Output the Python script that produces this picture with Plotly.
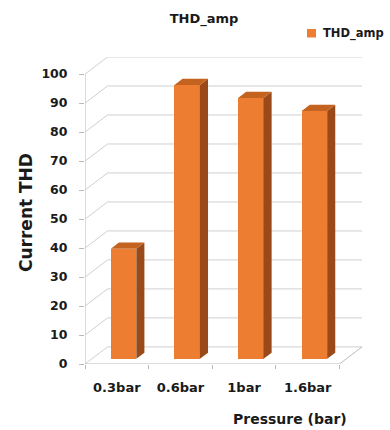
import plotly.graph_objects as go

# Data
categories = ["0.3bar", "0.6bar", "1bar", "1.6bar"]
thd_values = [38, 94.5, 90, 85.5]
y_ticks = list(range(0, 101, 10))

# Pseudo-3D geometry (data units)
DX, DY = 0.354, 5.9          # depth vector of the wall/floor box
F0, F1 = 0.30, 0.66          # front/back depth fractions of a column
BAR_W = 0.40
n = len(categories)

FRONT = "#ED7D31"
TOP = "#C4621F"
SIDE = "#9A4A18"
GRID = "#D0D0D0"
AXIS = "#BABABA"
FONT = "DejaVu Sans"

W, H = 390, 430
L, R, T, B = 85, 28, 57, 66
PW, PH = W - L - R, H - T - B


def px(x):
    return (x - L) / PW


def py(y):
    return (H - B - y) / PH


fig = go.Figure()

xc = [i + 0.5 for i in range(n)]
base0 = F0 * DY
shift = F0 * DX
dd = F1 - F0

# column front faces
fig.add_trace(go.Bar(
    x=[c + shift for c in xc], y=thd_values, base=[base0] * n,
    width=BAR_W, marker=dict(color=FRONT, line=dict(width=0)),
    name="THD_amp", showlegend=False, hoverinfo="skip",
))

# column side and top faces
for c, v in zip(xc, thd_values):
    xl = c + shift - BAR_W / 2
    xr = c + shift + BAR_W / 2
    top = v + base0
    ox, oy = dd * DX, dd * DY
    fig.add_trace(go.Scatter(
        x=[xr, xr, xr + ox, xr + ox, xr], y=[base0, top, top + oy, base0 + oy, base0],
        fill="toself", fillcolor=SIDE, mode="lines", line=dict(width=0),
        showlegend=False, hoverinfo="skip"))
    fig.add_trace(go.Scatter(
        x=[xl, xr, xr + ox, xl + ox, xl], y=[top, top, top + oy, top + oy, top],
        fill="toself", fillcolor=TOP, mode="lines", line=dict(width=0),
        showlegend=False, hoverinfo="skip"))

# back wall gridlines + side wall diagonals
shapes = []
for v in y_ticks:
    shapes.append(dict(
        type="path", xref="x", yref="y", layer="below",
        path=f"M0,{v} L{DX},{v + DY} L{n + DX},{v + DY}",
        line=dict(color=GRID, width=1)))
# floor front and right edges, front vertical axis
shapes.append(dict(type="path", xref="x", yref="y", layer="below",
                   path=f"M0,{y_ticks[-1]} L0,0 L{n},0 L{n + DX},{DY}",
                   line=dict(color=AXIS, width=1)))

# legend key
shapes.append(dict(type="rect", xref="paper", yref="paper",
                   x0=px(307), x1=px(316), y0=py(37.5), y1=py(29),
                   fillcolor=FRONT, line=dict(width=0)))

annotations = [
    dict(text="THD_amp", xref="paper", yref="paper", x=px(321), y=py(33.5),
         xanchor="left", yanchor="middle", showarrow=False,
         font=dict(family=FONT, size=11.5, color="#1a1a1a", weight="bold")),
    dict(text="Current THD", xref="paper", yref="paper", x=px(26), y=py(213),
         xanchor="center", yanchor="middle", textangle=-90, showarrow=False,
         font=dict(family=FONT, size=17, color="#1a1a1a", weight="bold")),
    dict(text="Pressure (bar)", xref="paper", yref="paper", x=px(290), y=py(419),
         xanchor="center", yanchor="middle", showarrow=False,
         font=dict(family=FONT, size=14, color="#1a1a1a", weight="bold")),
]

fig.update_layout(
    width=W, height=H,
    margin=dict(l=L, r=R, t=T, b=B, pad=0),
    paper_bgcolor="white", plot_bgcolor="white",
    title=dict(text="THD_amp", x=204 / W, xanchor="center", y=1 - 18 / H,
               yanchor="middle", xref="container", yref="container",
               font=dict(family=FONT, size=13, color="#1a1a1a", weight="bold")),
    xaxis=dict(range=[0, n + DX], tickvals=xc, ticktext=categories,
               showgrid=False, zeroline=False, showline=False, ticks="",
               ticklabelstandoff=14,
               tickfont=dict(family=FONT, size=13, color="#1a1a1a", weight="bold"),
               minor=dict(tickvals=list(range(n + 1)), ticks="outside", ticklen=4,
                          tickcolor=AXIS, showgrid=False),
               fixedrange=True),
    yaxis=dict(range=[0, 100 + DY], tickvals=y_ticks, showgrid=False,
               zeroline=False, showline=False, ticks="outside", ticklen=5,
               tickcolor=AXIS, ticklabelstandoff=9,
               tickfont=dict(family=FONT, size=12.5, color="#1a1a1a", weight="bold"),
               fixedrange=True),
    shapes=shapes, annotations=annotations,
    showlegend=False, bargap=0,
)

fig.write_html("out.html")
